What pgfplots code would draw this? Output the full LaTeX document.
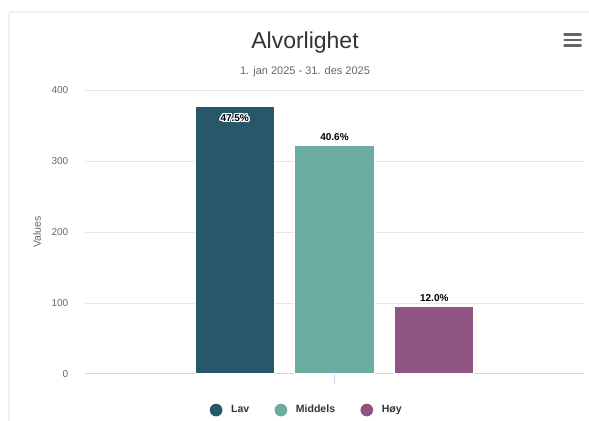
\documentclass[border=0pt]{standalone}
\usepackage{fontspec}
\setmainfont{Liberation Sans}
\usepackage{pgfplots}
\pgfplotsset{compat=1.18}
\usepackage{contour}
\contourlength{0.9pt}

\definecolor{lav}{HTML}{26586A}
\definecolor{middels}{HTML}{6AADA0}
\definecolor{hoy}{HTML}{905483}
\definecolor{gridc}{HTML}{E6E6E6}
\definecolor{axisc}{HTML}{CCD6EB}
\definecolor{tickc}{HTML}{666666}
\definecolor{titlec}{HTML}{333333}

\pgfplotsset{dotleg/.style={legend image code/.code={\fill[##1, draw=none] (4.75pt,0pt) circle (4.75pt);}}}

\begin{document}
\begin{tikzpicture}
\useasboundingbox (0,0) rectangle (441.75pt,315.75pt);
% card frame
\draw[gray!18, line width=0.9pt, rounded corners=2pt] (6.75pt,-2pt) -- (6.75pt,306.75pt) -- (445pt,306.75pt);

\node[anchor=base, text=titlec, font=\fontsize{17.25}{20}\selectfont] at (228.75pt,279.4pt) {Alvorlighet};
\node[anchor=base, text=tickc, font=\fontsize{8.25}{10}\selectfont] at (228.75pt,259.5pt) {1. jan 2025 - 31. des 2025};

% menu icon
\foreach \yy in {34.3,40,45.7}
  \draw[tickc, line width=2.2pt, line cap=round] (423.5pt,{(421-\yy)*0.75pt}) -- (435.5pt,{(421-\yy)*0.75pt});

\begin{axis}[
  at={(63.75pt,35.25pt)}, anchor=south west,
  width=374.25pt, height=213pt, scale only axis,
  xmin=-1.5, xmax=3.5, ymin=0, ymax=400,
  clip=false,
  axis line style={draw=none},
  ymajorgrids, grid style={color=gridc, line width=0.75pt},
  ytick={0,100,200,300,400}, ytick style={draw=none},
  extra y ticks={0}, extra y tick labels={},
  extra y tick style={grid style={color=axisc, line width=0.75pt}},
  xtick={1}, xticklabels={}, xtick pos=left,
  xtick style={color=axisc, line width=0.75pt},
  tick align=outside, major tick length=7.5pt,
  /pgf/number format/assume math mode=true,
  yticklabel style={font=\fontsize{7.5}{9}\selectfont, text=tickc, xshift=-1.5pt},
  ylabel={Values},
  every axis y label/.style={at={(rel axis cs:-0.096,0.5)}, rotate=90, anchor=center, font=\fontsize{7.9}{9}\selectfont, text=tickc},
  ybar, bar width=59.25pt, bar shift=0pt,
  nodes near coords style={font=\bfseries\fontsize{7.5}{9}\selectfont, text=black},
  legend columns=3,
  legend style={at={(rel axis cs:0.445,-0.127)}, anchor=center, draw=none, fill=none,
    font=\bfseries\fontsize{7.9}{9}\selectfont, text=titlec,
    /tikz/every odd column/.append style={column sep=4.5pt},
    /tikz/every even column/.append style={column sep=17pt}},
]
\addplot[fill=lav, draw=white, line width=0.75pt, dotleg,
  nodes near coords={\contour{white}{47.5\%}},
  every node near coord/.append style={anchor=north, yshift=-2.5pt}] coordinates {(0,377)};
\addlegendentry{Lav}
\addplot[fill=middels, draw=white, line width=0.75pt, dotleg,
  nodes near coords={40.6\%}] coordinates {(1,322)};
\addlegendentry{Middels}
\addplot[fill=hoy, draw=white, line width=0.75pt, dotleg,
  nodes near coords={12.0\%}] coordinates {(2,95)};
\addlegendentry{Høy}
\end{axis}
\end{tikzpicture}
\end{document}
